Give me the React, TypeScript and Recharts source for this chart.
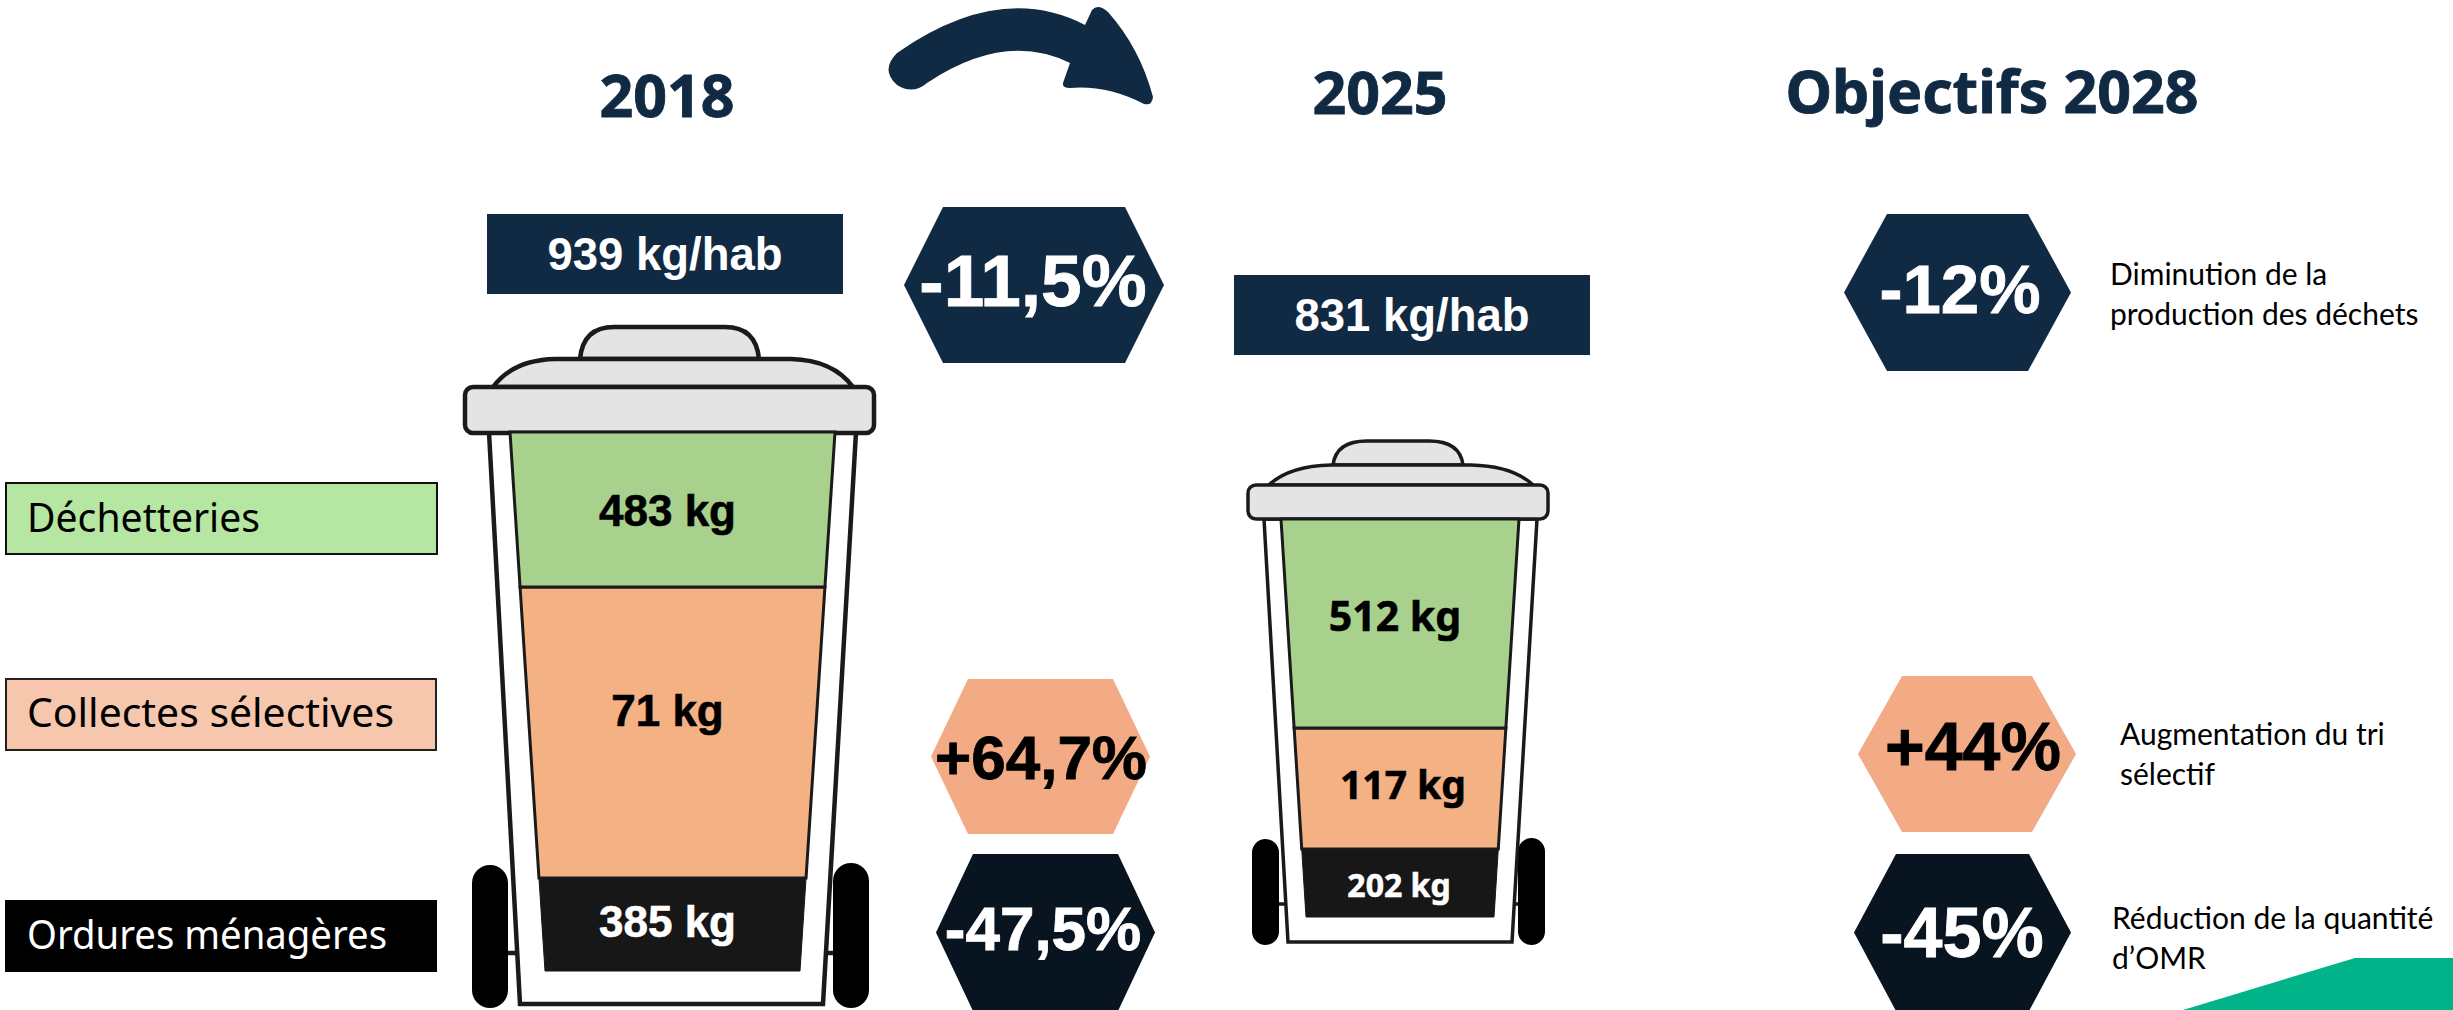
// Waste per inhabitant infographic, two bins drawn as stacked bars.
import { BarChart, Bar, XAxis, YAxis, LabelList } from "recharts";

// Layer heights as they appear in the picture (not proportional to the kg figures)
const years = ["2018", "2025"];
const ordures = [93, 68];
const collectes = [291, 121];
const dechetteries = [155, 209];
const ordureLabels = ["385 kg", "202 kg"];
const collecteLabels = ["71 kg", "117 kg"];
const dechetterieLabels = ["483 kg", "512 kg"];
const totals = ["939 kg/hab", "831 kg/hab"];

const legendNames = ["Déchetteries", "Collectes sélectives", "Ordures ménagères"];

const NAVY = "#112a44";
const DARK = "#08141f";
const GREEN = "#a9d18e";
const ORANGE = "#f4b183";
const BLACK = "#171717";
const LINE = "#1a1a1a";
const LID = "#e4e4e4";
const SALMON = "#f2ab85";
const ARIAL = "'Liberation Sans', Arial, sans-serif";
const NOTO = "'Noto Sans', sans-serif";
const CALIBRI = "Lato, sans-serif";

const PAD = 4;

// Stacked bar with sloped sides, narrowing towards the bottom of the plot
function taperedShape(topW: number, bottomW: number, plotH: number, stroke: boolean) {
  return (props: any) => {
    const { x, y, width, height, fill } = props;
    const slope = (topW - bottomW) / 2 / plotH;
    const a = (y - PAD) * slope;
    const b = (y + height - PAD) * slope;
    const pts = [
      [x + a, y],
      [x + width - a, y],
      [x + width - b, y + height],
      [x + b, y + height],
    ];
    return (
      <polygon
        points={pts.map((p) => p.join(",")).join(" ")}
        fill={fill}
        stroke={stroke ? LINE : fill}
        strokeWidth={stroke ? 3 : 1}
      />
    );
  };
}

function kgLabel(fontFamily: string, fontSize: number, color: string, dx: number, dy: number) {
  return (props: any) => {
    const { x, y, width, height, value } = props;
    return (
      <text
        x={x + width / 2 + dx}
        y={y + height / 2 + dy}
        textAnchor="middle"
        dominantBaseline="central"
        fontFamily={fontFamily}
        fontSize={fontSize}
        fontWeight={700}
        fill={color}
        stroke={color}
        strokeWidth={0.6}
      >
        {value}
      </text>
    );
  };
}

function BinStack({
  index,
  left,
  top,
  topW,
  bottomW,
  font,
  sizes,
  shifts,
}: {
  index: number;
  left: number;
  top: number;
  topW: number;
  bottomW: number;
  font: string;
  sizes: number[];
  shifts: number[][];
}) {
  const plotH = ordures[index] + collectes[index] + dechetteries[index];
  const data = [
    {
      year: years[index],
      ordures: ordures[index],
      collectes: collectes[index],
      dechetteries: dechetteries[index],
      ordureLabel: ordureLabels[index],
      collecteLabel: collecteLabels[index],
      dechetterieLabel: dechetterieLabels[index],
    },
  ];
  return (
    <div style={{ position: "absolute", left: left - PAD, top: top - PAD }}>
      <BarChart
        width={topW + PAD * 2}
        height={plotH + PAD * 2}
        data={data}
        barCategoryGap={0}
        margin={{ top: PAD, right: PAD, bottom: PAD, left: PAD }}
      >
        <XAxis dataKey="year" hide />
        <YAxis hide domain={[0, plotH]} />
        <Bar
          dataKey="ordures"
          stackId="bin"
          fill={BLACK}
          isAnimationActive={false}
          shape={taperedShape(topW, bottomW, plotH, false)}
        >
          <LabelList
            dataKey="ordureLabel"
            content={kgLabel(font, sizes[2], "#fff", shifts[2][0], shifts[2][1])}
          />
        </Bar>
        <Bar
          dataKey="collectes"
          stackId="bin"
          fill={ORANGE}
          isAnimationActive={false}
          shape={taperedShape(topW, bottomW, plotH, true)}
        >
          <LabelList
            dataKey="collecteLabel"
            content={kgLabel(font, sizes[1], "#000", shifts[1][0], shifts[1][1])}
          />
        </Bar>
        <Bar
          dataKey="dechetteries"
          stackId="bin"
          fill={GREEN}
          isAnimationActive={false}
          shape={taperedShape(topW, bottomW, plotH, true)}
        >
          <LabelList
            dataKey="dechetterieLabel"
            content={kgLabel(font, sizes[0], "#000", shifts[0][0], shifts[0][1])}
          />
        </Bar>
      </BarChart>
    </div>
  );
}

// Lid, frame and wheels around a stack
function BinFrame({ g }: { g: any }) {
  const s = { stroke: LINE, strokeWidth: g.line };
  return (
    <g>
      <rect x={g.wheelL[0]} y={g.wheelL[1]} width={g.wheelL[2]} height={g.wheelL[3]} rx={g.wheelL[2] / 2} fill="#000" />
      <rect x={g.wheelR[0]} y={g.wheelR[1]} width={g.wheelR[2]} height={g.wheelR[3]} rx={g.wheelR[2] / 2} fill="#000" />
      <line x1={g.wheelL[0] + g.wheelL[2]} x2={g.bodyBL + 8} y1={g.axle} y2={g.axle} {...s} />
      <line x1={g.wheelR[0]} x2={g.bodyBR - 8} y1={g.axle} y2={g.axle} {...s} />
      <polygon
        points={`${g.bodyTL},${g.bodyTop} ${g.bodyTR},${g.bodyTop} ${g.bodyBR},${g.bodyBottom} ${g.bodyBL},${g.bodyBottom}`}
        fill="#fff"
        {...s}
      />
      <path
        d={`M${g.hL},${g.hB} Q${g.hL + 3},${g.hT} ${g.hL + 34},${g.hT} L${g.hR - 34},${g.hT} Q${g.hR - 3},${g.hT} ${g.hR},${g.hB} Z`}
        fill={LID}
        {...s}
      />
      <path
        d={`M${g.dL},${g.dB} Q${g.dL + 20},${g.hB + 1} ${g.dL + 62},${g.hB} L${g.dR - 62},${g.hB} Q${g.dR - 20},${g.hB + 1} ${g.dR},${g.dB} Z`}
        fill={LID}
        {...s}
      />
      <rect x={g.lL} y={g.dB} width={g.lR - g.lL} height={g.lB - g.dB} rx={8} fill={LID} {...s} />
    </g>
  );
}

const bin2018 = {
  line: 4.5,
  wheelL: [472, 865, 36, 143],
  wheelR: [833, 863, 36, 145],
  axle: 953,
  bodyTop: 432,
  bodyBottom: 1004,
  bodyTL: 489,
  bodyTR: 856,
  bodyBL: 520,
  bodyBR: 823,
  hL: 580,
  hR: 759,
  hT: 327,
  hB: 359,
  dL: 493,
  dR: 853,
  dB: 387,
  lL: 465,
  lR: 874,
  lB: 433,
};

const bin2025 = {
  line: 3.5,
  wheelL: [1252, 839, 27, 106],
  wheelR: [1518, 838, 27, 107],
  axle: 904,
  bodyTop: 519,
  bodyBottom: 942,
  bodyTL: 1264,
  bodyTR: 1537,
  bodyBL: 1288,
  bodyBR: 1512,
  hL: 1333,
  hR: 1463,
  hT: 441,
  hB: 465,
  dL: 1269,
  dR: 1533,
  dB: 485,
  lL: 1248,
  lR: 1548,
  lB: 519,
};

function Hex({
  x0,
  x1,
  inset,
  y0,
  y1,
  fill,
  color,
  label,
  size,
  baseline,
  cx,
}: {
  x0: number;
  x1: number;
  inset: number;
  y0: number;
  y1: number;
  fill: string;
  color: string;
  label: string;
  size: number;
  baseline: number;
  cx: number;
}) {
  const mid = (y0 + y1) / 2;
  return (
    <g>
      <polygon
        points={`${x0},${mid} ${x0 + inset},${y0} ${x1 - inset},${y0} ${x1},${mid} ${x1 - inset},${y1} ${x0 + inset},${y1}`}
        fill={fill}
      />
      <text
        x={cx}
        y={baseline}
        textAnchor="middle"
        fontFamily={ARIAL}
        fontWeight={700}
        fontSize={size}
        fill={color}
        stroke={color}
        strokeWidth={0.8}
      >
        {label}
      </text>
    </g>
  );
}

function Note({ x, y, lines }: { x: number; y: number; lines: string[] }) {
  return (
    <text fontFamily={CALIBRI} fontSize={30} fill="#000">
      {lines.map((l, i) => (
        <tspan key={l} x={x} y={y + i * 40}>
          {l}
        </tspan>
      ))}
    </text>
  );
}

export default function App() {
  return (
    <div style={{ position: "absolute", left: 0, top: 0, width: 2453, height: 1010, overflow: "hidden", background: "#fff" }}>
      <svg width={2453} height={1010} style={{ position: "absolute", left: 0, top: 0 }}>
        {/* titles */}
        <g fontFamily={NOTO} fontWeight={700} fontSize={59} fill={NAVY} stroke={NAVY} strokeWidth={0.9} textAnchor="middle">
          <text x={667} y={117}>{years[0]}</text>
          <text x={1380} y={114}>{years[1]}</text>
          <text x={1992} y={113}>Objectifs 2028</text>
        </g>

        {/* arrow */}
        <path
          d="M897,53 Q1000,-19 1085,25 L1092,10 Q1098,3 1108,12 Q1140,48 1153,97 Q1152,106 1144,104 Q1107,85 1070,88 Q1062,88 1063,83 L1070,63 Q1005,31 927,83 Q913,95 897,85 Q880,70 897,53 Z"
          fill={NAVY}
        />

        {/* totals */}
        <rect x={487} y={214} width={356} height={80} fill={NAVY} />
        <text x={665} y={270} textAnchor="middle" fontFamily={ARIAL} fontWeight={700} fontSize={45.5} fill="#fff">{totals[0]}</text>
        <rect x={1234} y={275} width={356} height={80} fill={NAVY} />
        <text x={1412} y={331} textAnchor="middle" fontFamily={ARIAL} fontWeight={700} fontSize={45.5} fill="#fff">{totals[1]}</text>

        {/* legend */}
        <rect x={6} y={483} width={431} height={71} fill="#b5e6a2" stroke="#111" strokeWidth={2} />
        <text x={27} y={532} fontFamily={NOTO} fontSize={40} fill="#000" textLength={233} lengthAdjust="spacingAndGlyphs">{legendNames[0]}</text>
        <rect x={6} y={679} width={430} height={71} fill="#f6c6ad" stroke="#222" strokeWidth={2} />
        <text x={27} y={727} fontFamily={NOTO} fontSize={40} fill="#000" textLength={367} lengthAdjust="spacingAndGlyphs">{legendNames[1]}</text>
        <rect x={5} y={900} width={432} height={72} fill="#000" />
        <text x={27} y={949} fontFamily={NOTO} fontSize={40} fill="#fff" textLength={360} lengthAdjust="spacingAndGlyphs">{legendNames[2]}</text>

        <BinFrame g={bin2018} />
        <BinFrame g={bin2025} />

        {/* change badges */}
        <Hex x0={904} x1={1164} inset={39} y0={207} y1={363} fill={NAVY} color="#fff" label="-11,5%" size={73} baseline={306} cx={1033} />
        <Hex x0={931} x1={1150} inset={37} y0={679} y1={834} fill={SALMON} color="#000" label="+64,7%" size={62} baseline={779} cx={1041} />
        <Hex x0={936} x1={1155} inset={37} y0={854} y1={1011} fill={DARK} color="#fff" label="-47,5%" size={62} baseline={950} cx={1043} />
        <Hex x0={1844} x1={2071} inset={43} y0={214} y1={371} fill={NAVY} color="#fff" label="-12%" size={69} baseline={313} cx={1960} />
        <Hex x0={1858} x1={2076} inset={44} y0={676} y1={832} fill={SALMON} color="#000" label="+44%" size={68} baseline={770} cx={1973} />
        <Hex x0={1854} x1={2071} inset={42} y0={854} y1={1011} fill={DARK} color="#fff" label="-45%" size={70} baseline={957} cx={1962} />

        <Note x={2110} y={285} lines={["Diminution de la", "production des déchets"]} />
        <Note x={2120} y={745} lines={["Augmentation du tri", "sélectif"]} />
        <Note x={2112} y={929} lines={["Réduction de la quantité", "d’OMR"]} />

        <polygon points="2183,1010 2355,958 2453,958 2453,1010" fill="#00b388" />
      </svg>

      <BinStack
        index={0}
        left={510}
        top={432}
        topW={325}
        bottomW={255}
        font={ARIAL}
        sizes={[44, 44, 44]}
        shifts={[[-5, 1], [-5, -22], [-5, -3]]}
      />
      <BinStack
        index={1}
        left={1281}
        top={519}
        topW={238}
        bottomW={188}
        font={NOTO}
        sizes={[41, 39, 32]}
        shifts={[[-5, -9], [3, -5], [-1, 1]]}
      />
    </div>
  );
}
